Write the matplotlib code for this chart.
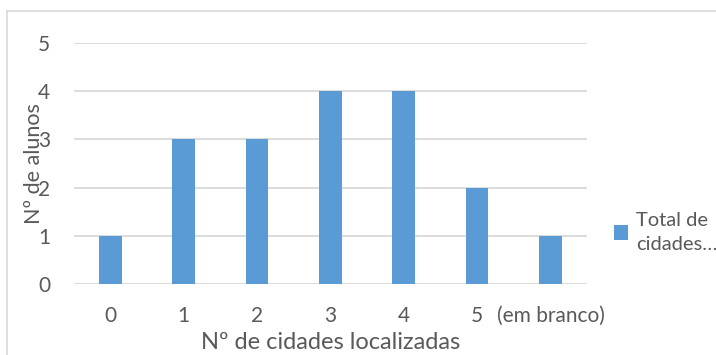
import matplotlib
matplotlib.use('Agg')
import matplotlib.pyplot as plt
from matplotlib.lines import Line2D

categories = ['0', '1', '2', '3', '4', '5', '(em branco)']
alunos = [1, 3, 3, 4, 4, 2, 1]
series_name = 'Total de\ncidades…'

plt.rcParams['font.family'] = ['Lato', 'DejaVu Sans']
grey = '#595959'
blue = '#5B9BD5'

fig = plt.figure(figsize=(7.16, 3.55), dpi=100)
ax = fig.add_axes([0.103, 0.20, 0.717, 0.679])

x = range(len(categories))
bars = ax.bar(x, alunos, width=0.31, color=blue, zorder=3, label=series_name)

ax.set_ylim(0, 5)
ax.set_xlim(-0.5, len(categories) - 0.5)
ax.set_yticks(range(0, 6))
ax.set_xticks(list(x))
ax.set_xticklabels(categories)
ax.yaxis.grid(True, color='#D9D9D9', linewidth=1.3, zorder=0)
for s in ax.spines.values():
    s.set_visible(False)
ax.tick_params(length=0, colors=grey, labelsize=15)
ax.tick_params(axis='x', pad=16)
ax.tick_params(axis='y', pad=17)

ax.set_xlabel('Nº de cidades localizadas', color=grey, fontsize=17)
ax.set_ylabel('Nº de alunos', color=grey, fontsize=15.5)
ax.xaxis.set_label_coords(0.5, -0.2)
ax.yaxis.set_label_coords(-0.057, 0.5)

leg = fig.legend(handles=[bars], labels=[series_name], loc='center left',
                 bbox_to_anchor=(0.832, 0.345), frameon=False, fontsize=14.5,
                 handlelength=0.7, handleheight=0.7, handletextpad=0.4,
                 labelcolor=grey)
for t in leg.get_texts():
    t.set_linespacing(1.5)

# chart area border (cut at right and bottom like the source)
fig.add_artist(Line2D([6.5 / 716, 6.5 / 716], [0, 1 - 10.5 / 355],
                      color='#D9D9D9', linewidth=1.2))
fig.add_artist(Line2D([6.5 / 716, 1], [1 - 10.5 / 355, 1 - 10.5 / 355],
                      color='#D9D9D9', linewidth=1.2))

fig.savefig('out.png', dpi=100)
